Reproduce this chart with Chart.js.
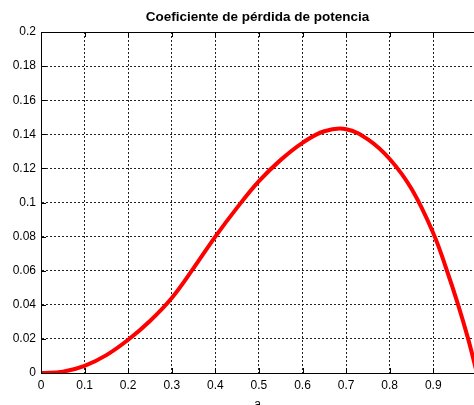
<!DOCTYPE html>
<html>
<head>
<meta charset="utf-8">
<script src="https://cdn.jsdelivr.net/npm/chart.js@4/dist/chart.umd.min.js"></script>
<style>
  body { margin: 0; background: #fff; }
  canvas { display: block; }
</style>
</head>
<body>
<canvas id="chart" width="474" height="405"></canvas>
<script>
// values
const aValues = [0, 0.05, 0.1, 0.15, 0.2, 0.25, 0.3, 0.35, 0.4, 0.45, 0.5, 0.55, 0.6, 0.65, 0.7, 0.75, 0.8, 0.85, 0.9, 0.93, 0.957, 0.98, 1.0];
const lossValues = [0, 0.0008, 0.0042, 0.0105, 0.0195, 0.0305, 0.044, 0.0615, 0.08, 0.097, 0.1125, 0.125, 0.135, 0.1418, 0.143, 0.137, 0.1255, 0.108, 0.082, 0.061, 0.04, 0.02, 0];
const xTicks = [0, 0.1, 0.2, 0.3, 0.4, 0.5, 0.6, 0.7, 0.8, 0.9];
const yTicks = [0, 0.02, 0.04, 0.06, 0.08, 0.1, 0.12, 0.14, 0.16, 0.18, 0.2];

const titleText = 'Coeficiente de pérdida de potencia';
const xLabel = 'a';
const FONT = "'Liberation Sans', Arial, Helvetica, sans-serif";

// matlab style frame: solid top line and short inward ticks
const framePlugin = {
  id: 'frame',
  afterDatasetsDraw(chart) {
    const {ctx, chartArea: area, scales} = chart;
    ctx.save();
    ctx.strokeStyle = '#000';
    ctx.lineWidth = 1;
    ctx.setLineDash([]);
    ctx.beginPath();
    ctx.moveTo(area.left, area.top + 0.5);
    ctx.lineTo(area.right, area.top + 0.5);
    for (const v of xTicks) {
      const x = Math.round(scales.x.getPixelForValue(v)) + 0.5;
      ctx.moveTo(x, area.bottom);
      ctx.lineTo(x, area.bottom - 5);
      ctx.moveTo(x, area.top);
      ctx.lineTo(x, area.top + 5);
    }
    for (const v of yTicks) {
      const y = Math.round(scales.y.getPixelForValue(v)) + 0.5;
      ctx.moveTo(area.left, y);
      ctx.lineTo(area.left + 5, y);
    }
    ctx.stroke();
    ctx.restore();
  }
};

new Chart(document.getElementById('chart'), {
  type: 'line',
  data: {
    datasets: [{
      data: aValues.map((a, i) => ({x: a, y: lossValues[i]})),
      borderColor: '#ff0000',
      borderWidth: 4,
      pointRadius: 0,
      tension: 0.4,
      fill: false
    }]
  },
  options: {
    responsive: false,
    animation: false,
    devicePixelRatio: 1,
    layout: { padding: 0 },
    plugins: {
      legend: { display: false },
      tooltip: { enabled: false },
      title: {
        display: true,
        text: titleText,
        color: '#000',
        fullSize: false,
        font: { family: FONT, size: 13.5, weight: 'bold', lineHeight: 1.2 },
        padding: { top: 9, bottom: 6.8 }
      }
    },
    scales: {
      x: {
        type: 'linear',
        min: 0,
        max: 0.9934,
        afterBuildTicks: s => { s.ticks = xTicks.map(v => ({value: v})); },
        afterFit: s => { s.height = 32; },
        ticks: {
          color: '#000',
          padding: 5,
          maxRotation: 0,
          font: { family: FONT, size: 12 },
          callback: v => String(+v.toFixed(2))
        },
        grid: { color: '#222', drawTicks: false, lineWidth: 1 },
        border: { color: '#000', width: 1, dash: [2, 2] },
        title: {
          display: true,
          text: xLabel,
          color: '#000',
          font: { family: FONT, size: 12, lineHeight: 1.2 },
          padding: { top: 0, bottom: -7 }
        }
      },
      y: {
        min: 0,
        max: 0.2,
        afterBuildTicks: s => { s.ticks = yTicks.map(v => ({value: v})); },
        afterFit: s => { s.width = 41; },
        ticks: {
          color: '#000',
          padding: 5,
          font: { family: FONT, size: 12 },
          callback: v => String(+v.toFixed(2))
        },
        grid: { color: '#222', drawTicks: false, lineWidth: 1 },
        border: { color: '#000', width: 1, dash: [2, 2] }
      }
    }
  },
  plugins: [framePlugin]
});
</script>
</body>
</html>
